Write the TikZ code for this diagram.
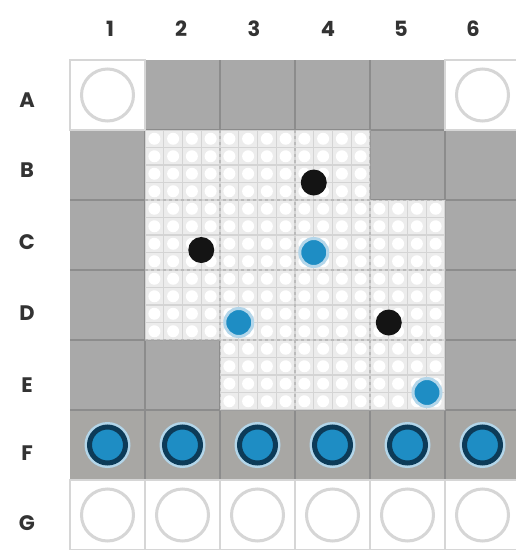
\documentclass[tikz,border=0pt]{standalone}
\usepackage{fontspec}
\newfontfamily\labfont{Poppins}
\definecolor{cellgray}{HTML}{A9A9A9}
\definecolor{rowfgray}{HTML}{A8A7A4}
\definecolor{linegray}{HTML}{8C8C8C}
\definecolor{ringgray}{HTML}{D6D6D6}
\definecolor{boardbg}{HTML}{ECECEC}
\definecolor{fineline}{HTML}{D4D4D4}
\definecolor{celline}{HTML}{BBBBBB}
\definecolor{pegblue}{HTML}{1E8DC4}
\definecolor{navy}{HTML}{0D3B58}
\definecolor{halo}{HTML}{B3D6EA}
\definecolor{labgray}{HTML}{333333}
\tikzset{
  lab/.style={font=\labfont\bfseries\fontsize{21}{21}\selectfont, text=labgray, inner sep=0pt},
  whitecell/.style={fill=white, draw=ringgray, line width=1.5pt},
  ring/.style={draw=ringgray, line width=3pt},
  blackpeg/.style={circle, fill=black!92, minimum size=26pt, inner sep=0pt},
  bluepeg/.style={circle, fill=pegblue, draw=halo, line width=3pt, minimum size=28pt, inner sep=0pt},
  bigpeg/.style={circle, fill=pegblue, draw=navy, line width=5pt, minimum size=36pt, inner sep=0pt},
  bighalo/.style={circle, fill=halo, minimum size=46pt, inner sep=0pt}
}
\begin{document}
\begin{tikzpicture}[x=1pt,y=-1pt]
\useasboundingbox (0,0) rectangle (516,550);
% gray base rows A-F
\fill[cellgray] (70,60) rectangle (520,410);
\fill[rowfgray] (70,410) rectangle (520,480);
\foreach \x in {145,220,295,370,445} \draw[linegray,line width=2.5pt] (\x,60) -- (\x,480);
\foreach \y in {130,200,270,340,410,480} \draw[linegray,line width=2.5pt] (70,\y) -- (520,\y);
% white corner cells of row A
\foreach \x in {70,445} {
  \path[whitecell] (\x,60) rectangle ++(75,70);
  \draw[ring] (\x+37.5,95) circle (26pt);
}
% row G
\foreach \i in {0,...,5} {
  \path[whitecell] (70+75*\i,480) rectangle ++(75,70);
  \draw[ring] (107.5+75*\i,515) circle (26pt);
}
% board
\def\board{(145,130) -- (370,130) -- (370,200) -- (445,200) -- (445,410) -- (220,410) -- (220,340) -- (145,340) -- cycle}
\fill[boardbg] \board;
\begin{scope}
  \clip \board;
  \foreach \i in {0,...,16} \draw[fineline,line width=1.2pt] (145+18.75*\i,130) -- (145+18.75*\i,410);
  \foreach \j in {0,...,16} \draw[fineline,line width=1.2pt] (145,130+17.5*\j) -- (445,130+17.5*\j);
  \foreach \i in {0,...,15} \foreach \j in {0,...,15}
    \fill[white] (154.375+18.75*\i,138.75+17.5*\j) circle (6pt);
  \foreach \x in {220,295,370} \draw[celline,line width=1.2pt,dashed] (\x,130) -- (\x,410);
  \foreach \y in {200,270,340} \draw[celline,line width=1.2pt,dashed] (145,\y) -- (445,\y);
\end{scope}
% pegs on the board
\node[blackpeg] (pB4) at (313.75,182.5) {};
\node[blackpeg] (pC2) at (201.25,250) {};
\node[bluepeg]  (pC4) at (313.75,252.5) {};
\node[bluepeg]  (pD3) at (238.75,322.5) {};
\node[blackpeg] (pD5) at (388.75,322.5) {};
\node[bluepeg]  (pE5) at (427,392.5) {};
% row F pegs
\foreach \i in {1,...,6} {
  \node[bighalo] (hF\i) at (32.5+75*\i,445) {};
  \node[bigpeg] (pF\i) at (32.5+75*\i,445) {};
}
% labels
\node[lab] (c1) at (110,29) {1};
\node[lab] (c2) at (181,29) {2};
\node[lab] (c3) at (254,29) {3};
\node[lab] (c4) at (328,29) {4};
\node[lab] (c5) at (401,29) {5};
\node[lab] (c6) at (473,29) {6};
\node[lab] (rA) at (27,100) {A};
\node[lab] (rB) at (27,170) {B};
\node[lab] (rC) at (27,242) {C};
\node[lab] (rD) at (27,313) {D};
\node[lab] (rE) at (27,385) {E};
\node[lab] (rF) at (27,453) {F};
\node[lab] (rG) at (27,523) {G};
\end{tikzpicture}
\end{document}
